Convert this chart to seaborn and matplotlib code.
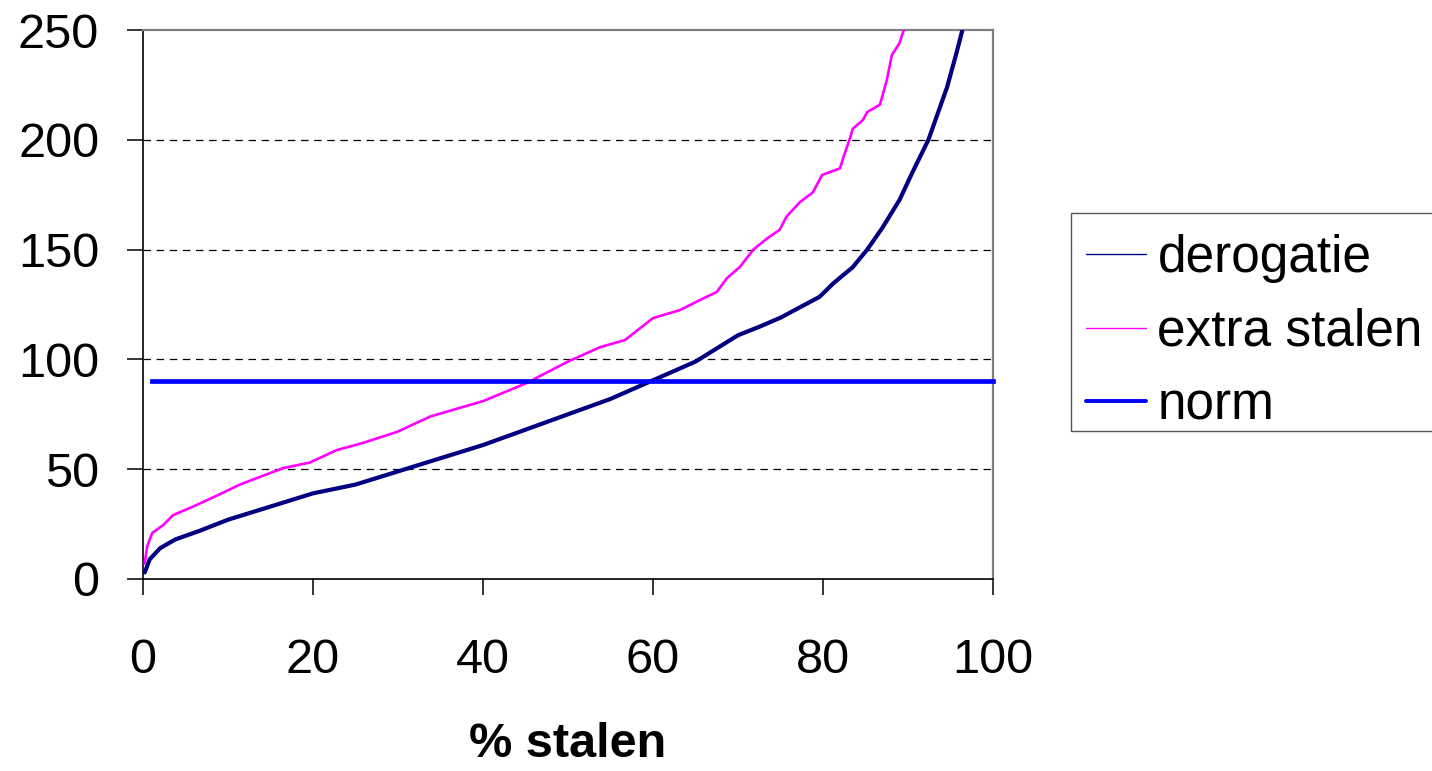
import matplotlib
matplotlib.use("Agg")
import matplotlib.pyplot as plt
from matplotlib.lines import Line2D
from matplotlib.patches import Rectangle
import seaborn as sns
import pandas as pd

# ---- data ----
derog_x = [0.2, 0.8, 2, 3.8, 6.7, 10, 15, 20, 25, 30, 35, 40, 45, 50, 55, 60,
           65, 70, 72.6, 75, 79.6, 81.2, 83.5, 85.2, 87, 89, 90.5, 92.4, 94.6, 95.7, 96.4]
derog_y = [3, 9, 14, 18, 22, 27, 33, 39, 43, 49, 55, 61, 68, 75, 82, 90.5,
           99, 111, 115, 119, 128.5, 134.6, 142, 150, 160, 172.6, 185, 200, 224, 239.5, 250]

extra_x = [0.2, 0.5, 1.1, 2.4, 3.5, 6.3, 8.7, 11.4, 14.1, 16.5, 19.6, 22.8, 25.9, 29.9,
           33.8, 40, 45, 50, 53.8, 56.7, 60, 63.2, 65.5, 67.5, 68.7, 70.2, 71.8, 73.4,
           74.9, 75.7, 77.3, 78.8, 79.9, 82, 82.4, 83.2, 83.5, 84.7, 85.2, 86.7, 87.5,
           88.1, 89, 89.5]
extra_y = [7, 15, 21, 24.6, 29, 33.7, 38, 43, 47, 50.5, 53, 58.7, 62, 67,
           74, 81, 89, 99, 105.6, 108.8, 118.8, 122.5, 127, 130.7, 137, 142, 150, 155,
           159, 165, 171.7, 176, 184, 187, 192, 201, 205, 209, 212.6, 216, 227,
           238.6, 244, 250]

norm_x = [1, 100]
norm_y = [90, 90]

labels = ["derogatie", "extra stalen", "norm"]
colors = ["#000080", "#FF00FF", "#0000FF"]
x_ticks = [0, 20, 40, 60, 80, 100]
y_ticks = [0, 50, 100, 150, 200, 250]
x_label = "% stalen"

# ---- plotting ----
sns.set_style("white")
plt.rcParams["font.family"] = ["Liberation Sans", "DejaVu Sans"]
for k in ["text.color", "axes.labelcolor", "xtick.color", "ytick.color"]:
    plt.rcParams[k] = "black"

W, H = 1432, 771
fig = plt.figure(figsize=(W / 100, H / 100), dpi=100)
ax = fig.add_axes([143 / W, 1 - 579 / H, (993 - 143) / W, (579 - 30) / H])

df_d = pd.DataFrame({"x": derog_x, "y": derog_y})
df_e = pd.DataFrame({"x": extra_x, "y": extra_y})
df_n = pd.DataFrame({"x": norm_x, "y": norm_y})

for yv in [50, 100, 150, 200]:
    ax.axhline(yv, color="black", lw=0.9, ls=(0, (6, 4.5)), zorder=1)

sns.lineplot(data=df_e, x="x", y="y", ax=ax, color=colors[1], lw=1.9,
             sort=False, estimator=None, legend=False, zorder=3)
sns.lineplot(data=df_d, x="x", y="y", ax=ax, color=colors[0], lw=3.0,
             sort=False, estimator=None, legend=False, zorder=4)
sns.lineplot(data=df_n, x="x", y="y", ax=ax, color=colors[2], lw=3.4,
             sort=False, estimator=None, legend=False, zorder=5)
for ln in ax.lines[-1:]:
    ln.set_clip_on(False)
    ln.set_solid_capstyle("projecting")

ax.set_xlim(0, 100)
ax.set_ylim(0, 250)
ax.set_xticks(x_ticks)
ax.set_yticks(y_ticks)
ax.set_xticklabels([str(t) for t in x_ticks])
ax.set_yticklabels([str(t) for t in y_ticks])
ax.tick_params(axis="both", direction="out", length=11.5, width=1.1, color="black",
               labelcolor="black", labelsize=35, left=True, bottom=True)
ax.tick_params(axis="y", pad=20)
ax.tick_params(axis="x", pad=31)
ax.set_xlabel(x_label, fontsize=35, fontweight="bold", labelpad=28, color="black")
ax.set_ylabel("")

for s in ["left", "bottom"]:
    ax.spines[s].set_color("black")
    ax.spines[s].set_linewidth(1.2)
for s in ["top", "right"]:
    ax.spines[s].set_color("#808080")
    ax.spines[s].set_linewidth(1.6)

# legend frame (drawn separately to match the reference box)
fig.patches.append(Rectangle((1071 / W, 1 - 431 / H), (1440 - 1071) / W, (431 - 213) / H,
                             transform=fig.transFigure, fill=False,
                             edgecolor="#555555", lw=1.0))

handles = [Line2D([], [], color=colors[0], lw=1.0),
           Line2D([], [], color=colors[1], lw=1.0),
           Line2D([], [], color=colors[2], lw=2.8)]
leg = fig.legend(handles, labels, loc="upper left",
                 bbox_to_anchor=(1086 / W, 1 - 234 / H),
                 fontsize=37, frameon=False, handlelength=1.17,
                 handletextpad=0.22, labelspacing=0.48, borderpad=0.0,
                 borderaxespad=0)
for t in leg.get_texts():
    t.set_color("black")

fig.savefig("out.png", dpi=100)
